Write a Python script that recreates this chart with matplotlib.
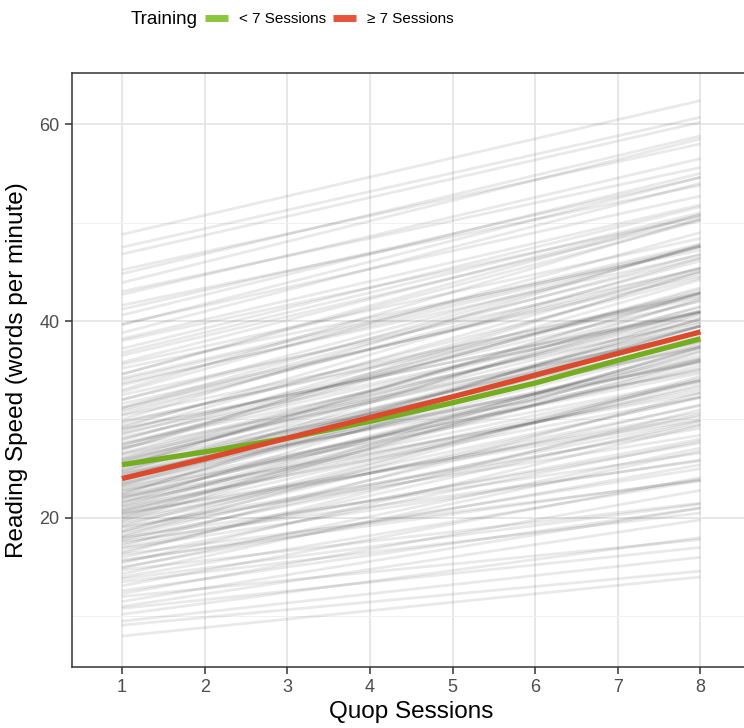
import matplotlib
matplotlib.use('Agg')
import matplotlib.pyplot as plt
from matplotlib.ticker import MultipleLocator

plt.rcParams['font.family'] = ['Liberation Sans', 'DejaVu Sans']

sessions = [1, 2, 3, 4, 5, 6, 7, 8]

# mean curves per training group
less7 = [25.4, 26.7, 28.1, 29.8, 31.7, 33.7, 36.0, 38.2]
more7 = [24.0, 26.0, 28.1, 30.2, 32.3, 34.5, 36.7, 38.9]

# individual trajectories: reading speed at session 1 and session 8
start_speed = [
    8.0, 9.1, 10.2, 10.8, 11.5, 12.0, 12.6, 13.1, 13.5, 14.0,
    14.3, 14.7, 15.0, 15.4, 15.7, 16.0, 16.3, 16.6, 16.9, 17.2,
    17.4, 17.7, 18.0, 18.2, 18.5, 18.7, 19.0, 19.2, 19.4, 19.7,
    19.9, 20.1, 20.3, 20.5, 20.7, 20.9, 21.1, 21.3, 21.5, 21.7,
    21.9, 22.1, 22.3, 22.5, 22.7, 22.9, 23.1, 23.3, 23.5, 23.7,
    23.9, 24.1, 24.3, 24.5, 24.7, 24.9, 25.1, 25.3, 25.5, 25.7,
    25.9, 26.1, 26.4, 26.6, 26.9, 27.1, 27.4, 27.6, 27.9, 28.2,
    28.5, 28.8, 29.1, 29.4, 29.7, 30.0, 30.4, 30.8, 31.2, 31.6,
    32.0, 32.5, 33.0, 33.5, 34.0, 34.6, 35.2, 35.8, 36.5, 37.2,
    38.0, 38.8, 39.7, 40.6, 41.6, 42.7, 43.9, 45.2, 46.8, 48.8,
    9.5, 11.0, 12.3, 13.8, 14.9, 15.6, 16.4, 17.0, 17.6, 18.1,
    18.6, 19.1, 19.6, 20.0, 20.4, 20.8, 21.2, 21.6, 22.0, 22.4,
    22.8, 23.2, 23.6, 24.0, 24.4, 24.8, 25.2, 25.6, 26.0, 26.5,
    27.0, 27.5, 28.0, 28.6, 29.2, 29.8, 30.5, 31.2, 32.0, 32.8,
    33.7, 34.6, 35.6, 36.8, 38.2, 39.6, 41.2, 43.0, 44.8, 47.5,
    17.9, 20.6, 22.2, 23.4, 24.6, 25.8, 27.2, 29.0, 31.0, 34.2,
]
end_speed = [
    14.0, 14.6, 18.0, 17.0, 21.0, 17.8, 21.0, 24.1, 20.5, 23.8,
    26.8, 21.5, 25.4, 29.4, 23.9, 27.8, 23.8, 29.8, 25.9, 32.7,
    27.6, 30.5, 26.6, 34.2, 29.9, 32.3, 28.4, 34.0, 31.4, 36.9,
    30.7, 33.5, 35.9, 30.3, 33.3, 37.3, 32.3, 35.5, 39.5, 33.9,
    36.9, 32.7, 36.1, 39.5, 35.1, 37.5, 34.7, 39.5, 36.5, 42.3,
    35.9, 39.5, 37.5, 34.9, 41.5, 38.9, 37.9, 42.9, 37.3, 40.9,
    39.5, 42.1, 38.8, 41.4, 45.1, 38.7, 43.2, 41.0, 44.9, 40.8,
    42.9, 45.4, 40.9, 44.4, 42.9, 47.8, 42.6, 45.4, 47.6, 44.6,
    47.6, 45.3, 50.4, 47.5, 47.6, 50.8, 47.2, 50.8, 50.3, 51.6,
    50.6, 54.0, 52.7, 55.0, 53.8, 56.5, 58.5, 58.0, 60.2, 62.4,
    16.0, 19.8, 22.8, 21.4, 27.1, 25.0, 31.0, 28.0, 25.8, 31.5,
    34.4, 29.1, 32.2, 37.4, 30.0, 33.8, 37.2, 33.0, 36.2, 40.8,
    34.0, 37.8, 40.2, 36.2, 39.8, 38.0, 42.8, 38.4, 41.0, 40.5,
    43.4, 39.9, 42.8, 42.0, 46.4, 42.4, 46.1, 45.0, 46.4, 49.0,
    46.7, 50.2, 48.4, 51.0, 51.8, 54.6, 54.6, 55.6, 58.8, 60.7,
    29.5, 36.0, 35.2, 40.2, 35.8, 40.2, 44.2, 41.0, 46.8, 47.8,
]

fig = plt.figure(figsize=(7.44, 7.28), dpi=100)
ax = fig.add_axes([72 / 744, 1 - 667 / 728, 678 / 744, 594 / 728])

for s, e in zip(start_speed, end_speed):
    ax.plot([sessions[0], sessions[-1]], [s, e], color='black', alpha=0.085, lw=2.0,
            solid_capstyle='butt', zorder=2)

g, = ax.plot(sessions, less7, color='#74ad1f', lw=3.8, zorder=3, solid_capstyle='butt')
r, = ax.plot(sessions, more7, color='#dc4a2e', lw=3.8, zorder=4, solid_capstyle='butt')

ax.set_xlim(0.395, 8.6)
ax.set_ylim(4.85, 65.2)
ax.set_xticks(sessions)
ax.yaxis.set_major_locator(MultipleLocator(20))
ax.yaxis.set_minor_locator(MultipleLocator(10))
ax.grid(which='major', color='#e3e3e3', lw=1.2, zorder=0)
ax.grid(which='minor', axis='y', color='#f0f0f0', lw=0.7, zorder=0)
ax.tick_params(which='minor', length=0)
ax.tick_params(which='major', length=5, width=1.1, color='#333333',
               labelsize=13, labelcolor='#4d4d4d', pad=4)
ax.set_axisbelow(True)
for sp in ax.spines.values():
    sp.set_color('#333333')
    sp.set_linewidth(1.1)

ax.set_xlabel('Quop Sessions', fontsize=17.5, labelpad=3)
ax.set_ylabel('Reading Speed (words per minute)', fontsize=17.5, labelpad=8)

fig.text(131 / 744, 1 - 20 / 728, 'Training', fontsize=13.5, va='center', ha='left')
fig.legend([g, r], ['< 7 Sessions', '\u2265 7 Sessions'], ncol=2, frameon=False,
           loc='center left', bbox_to_anchor=(205 / 744, 1 - 19 / 728),
           fontsize=11, borderpad=0, borderaxespad=0,
           handlelength=1.5, handletextpad=0.7, columnspacing=0.5)
leg = fig.legends[0]
for h in leg.legend_handles:
    h.set_linewidth(5)
leg.legend_handles[0].set_color('#8cc63f')
leg.legend_handles[1].set_color('#e8533a')

fig.savefig('out.png', dpi=100)
